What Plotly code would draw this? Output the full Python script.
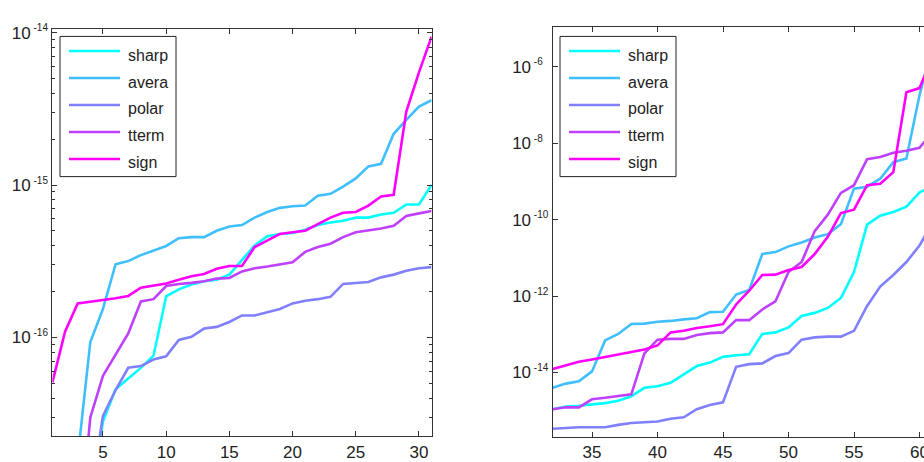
import plotly.graph_objects as go

# ---------------- data (log10 of the error values) ----------------
x_left = list(range(1, 32))
x_right = list(range(32, 62))

sharp_left = [-17.7, -17.5, -17.2, -17.1, -16.55, -16.34, -16.27, -16.20, -16.12, -15.73,
              -15.685, -15.653, -15.631, -15.621, -15.588, -15.492, -15.396, -15.336, -15.321, -15.315,
              -15.293, -15.263, -15.246, -15.235, -15.214, -15.214, -15.193, -15.182, -15.128, -15.128, -15.0]
avera_left = [-17.3, -17.05, -16.79, -16.03, -15.813, -15.52, -15.499, -15.46, -15.428, -15.40,
              -15.349, -15.342, -15.342, -15.30, -15.272, -15.263, -15.214, -15.177, -15.15, -15.139,
              -15.135, -15.071, -15.058, -15.011, -14.957, -14.878, -14.861, -14.664, -14.572, -14.486, -14.443]
polar_left = [-17.6, -17.4, -17.25, -17.05, -16.515, -16.345, -16.199, -16.188, -16.145, -16.124,
              -16.017, -15.996, -15.942, -15.931, -15.899, -15.856, -15.856, -15.835, -15.813, -15.777,
              -15.76, -15.749, -15.734, -15.649, -15.642, -15.636, -15.606, -15.588, -15.563, -15.546, -15.539]
tterm_left = [-17.8, -17.6, -17.4, -16.525, -16.252, -16.113, -15.974, -15.764, -15.749, -15.663,
              -15.649, -15.642, -15.631, -15.614, -15.61, -15.567, -15.546, -15.535, -15.52, -15.507,
              -15.439, -15.407, -15.385, -15.342, -15.31, -15.30, -15.285, -15.267, -15.203, -15.186, -15.171]
sign_left = [-16.295, -15.963, -15.777, -15.764, -15.755, -15.743, -15.728, -15.674, -15.659, -15.646,
             -15.621, -15.599, -15.584, -15.55, -15.531, -15.531, -15.407, -15.364, -15.321, -15.31,
             -15.30, -15.257, -15.214, -15.182, -15.177, -15.135, -15.075, -15.064, -14.518, -14.261, -14.026]

sharp_right = [-14.96, -14.89, -14.87, -14.83, -14.80, -14.74, -14.62, -14.40, -14.36, -14.27,
               -14.06, -13.83, -13.74, -13.59, -13.55, -13.52, -12.99, -12.95, -12.82, -12.52,
               -12.44, -12.31, -12.05, -11.37, -10.13, -9.90, -9.80, -9.66, -9.29, -9.12]
avera_right = [-14.40, -14.29, -14.23, -13.97, -13.16, -12.99, -12.73, -12.72, -12.67, -12.65,
               -12.61, -12.58, -12.42, -12.41, -11.96, -11.84, -10.90, -10.85, -10.70, -10.60,
               -10.47, -10.38, -10.12, -9.19, -9.14, -8.93, -8.50, -8.40, -6.75, -5.40]
polar_right = [-15.47, -15.45, -15.43, -15.43, -15.43, -15.37, -15.32, -15.30, -15.28, -15.21,
               -15.17, -14.96, -14.85, -14.78, -13.85, -13.78, -13.76, -13.57, -13.49, -13.14,
               -13.08, -13.06, -13.06, -12.91, -12.26, -11.75, -11.45, -11.11, -10.68, -10.06]
tterm_right = [-14.96, -14.91, -14.91, -14.70, -14.66, -14.62, -14.57, -13.50, -13.14, -13.12,
               -13.12, -13.02, -12.97, -12.95, -12.63, -12.63, -12.35, -12.14, -11.37, -11.11,
               -10.30, -9.87, -9.30, -9.10, -8.42, -8.36, -8.25, -8.20, -8.12, -7.70]
sign_right = [-13.905, -13.82, -13.718, -13.657, -13.59, -13.528, -13.46, -13.40, -13.29, -12.95,
              -12.905, -12.836, -12.79, -12.735, -12.22, -11.86, -11.45, -11.44, -11.32, -11.24,
              -10.90, -10.45, -9.83, -9.74, -9.10, -9.06, -8.76, -6.67, -6.56, -5.75]

names = ["sharp", "avera", "polar", "tterm", "sign"]
colors = ["#00FFFF", "#40BFFF", "#8080FF", "#BF40FF", "#FF00FF"]

left_exp_ticks = [-16, -15, -14]
right_exp_ticks = [-14, -12, -10, -8, -6]
x_left_ticks = [5, 10, 15, 20, 25, 30]
x_right_ticks = [35, 40, 45, 50, 55, 60]

# ---------------- figure ----------------
W, H = 934, 462
FONT = "Liberation Sans, Arial, sans-serif"

fig = go.Figure()
left_sets = [sharp_left, avera_left, polar_left, tterm_left, sign_left]
right_sets = [sharp_right, avera_right, polar_right, tterm_right, sign_right]
for name, col, yl, yr in zip(names, colors, left_sets, right_sets):
    fig.add_trace(go.Scatter(x=x_left, y=[10 ** v for v in yl], mode="lines", name=name,
                             line=dict(color=col, width=2.6), xaxis="x", yaxis="y",
                             showlegend=False))
    fig.add_trace(go.Scatter(x=x_right, y=[10 ** v for v in yr], mode="lines", name=name,
                             line=dict(color=col, width=2.6), xaxis="x2", yaxis="y2",
                             showlegend=False))


def px_x(p):
    return p / W


def px_y(p):
    return (H - p) / H


def sup_text(e):
    # single-digit exponents get padding so the "10" part lines up as in the original
    pad = "" if abs(e) >= 10 else "&nbsp;&nbsp;"
    return "10<sup><span style='font-size:10px'>&nbsp;-%d%s</span></sup>" % (abs(e), pad)


axis_common = dict(showline=True, linecolor="#333", linewidth=1, ticks="inside",
                   tickcolor="#333", showgrid=False, zeroline=False,
                   tickfont=dict(family=FONT, size=17, color="#222"))

minor_left = [m * 10 ** e for e in (-17, -16, -15) for m in range(2, 10)]

# legend boxes (drawn in paper space, one per panel)
shapes = []
annotations = []
for box_left in (60, 560):
    shapes.append(dict(type="rect", xref="paper", yref="paper",
                       x0=px_x(box_left), x1=px_x(box_left + 116),
                       y0=px_y(173), y1=px_y(30),
                       line=dict(color="#222", width=1), fillcolor="white", layer="above"))
    for i, (name, col) in enumerate(zip(names, colors)):
        ly = 45 + i * 27.5
        shapes.append(dict(type="line", xref="paper", yref="paper",
                           x0=px_x(box_left + 9), x1=px_x(box_left + 60),
                           y0=px_y(ly), y1=px_y(ly),
                           line=dict(color=col, width=2.5), layer="above"))
        annotations.append(dict(xref="paper", yref="paper", x=px_x(box_left + 66),
                                y=px_y(ly + 4), text=name, showarrow=False,
                                xanchor="left", yanchor="middle",
                                font=dict(family=FONT, size=16, color="#222")))

fig.update_layout(
    width=W, height=H, margin=dict(l=0, r=0, t=0, b=0),
    plot_bgcolor="white", paper_bgcolor="white",
    font=dict(family=FONT, size=16, color="#222"),
    showlegend=False,
    xaxis=dict(domain=[px_x(52.4), px_x(431.6)], range=[1, 31], anchor="y",
               tickvals=x_left_ticks, ticklen=5, mirror="ticks", **axis_common),
    yaxis=dict(domain=[px_y(438), px_y(22.7)], type="log", range=[-16.65, -13.978], anchor="x",
               tickvals=[10 ** e for e in left_exp_ticks],
               ticktext=[sup_text(e) for e in left_exp_ticks], ticklen=5, mirror="ticks",
               minor=dict(tickvals=minor_left, ticks="inside", ticklen=3, tickcolor="#333",
                          showgrid=False),
               **axis_common),
    xaxis2=dict(domain=[px_x(552.7), px_x(932.6)], range=[32, 61], anchor="y2",
                tickvals=x_right_ticks, ticklen=5, mirror="ticks", **axis_common),
    yaxis2=dict(domain=[px_y(438.3), px_y(20.7)], type="log", range=[-15.68, -4.97], anchor="x2",
                tickvals=[10 ** e for e in right_exp_ticks],
                ticktext=[sup_text(e) for e in right_exp_ticks], ticklen=5, mirror="ticks",
                **axis_common),
    shapes=shapes,
    annotations=annotations,
)

fig.write_html("out.html", config={"displayModeBar": False},
               post_script="document.body.style.margin='0';document.body.style.overflow='hidden';"
                           "document.documentElement.style.overflow='hidden';")
